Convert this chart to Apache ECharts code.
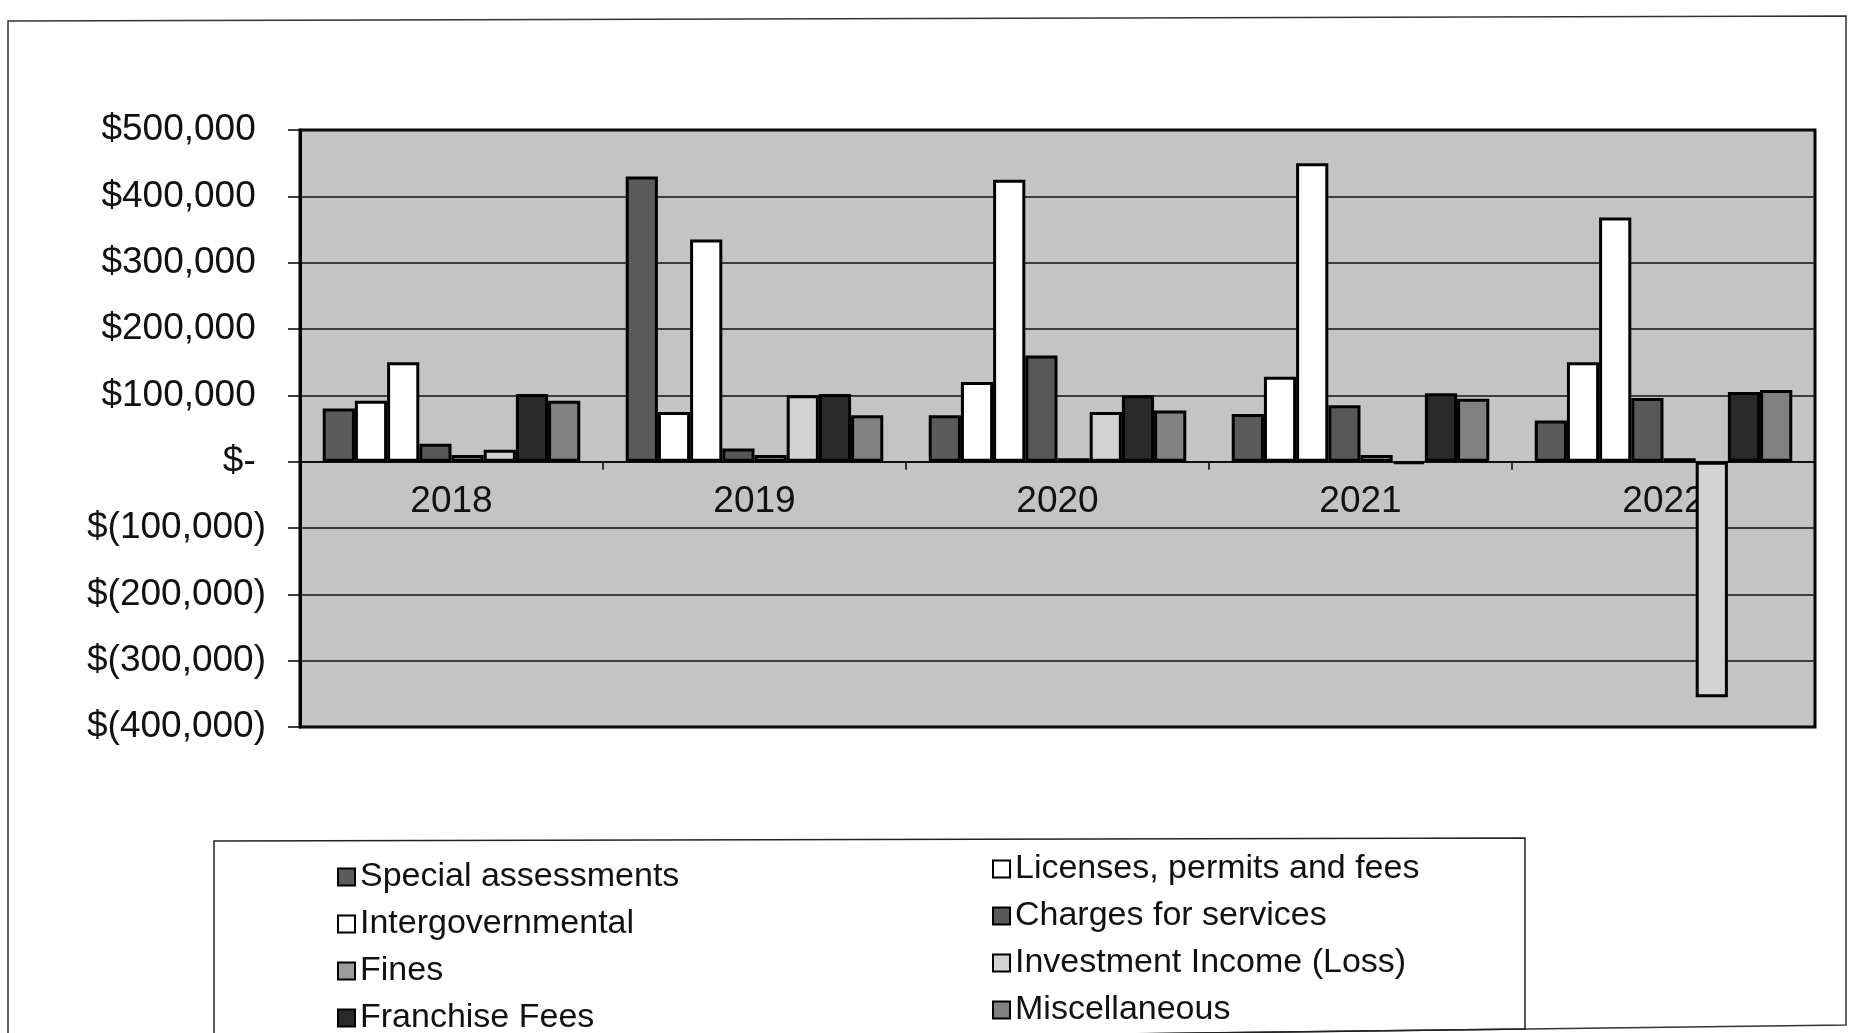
<!DOCTYPE html>
<html>
<head>
<meta charset="utf-8">
<title>Revenues by source</title>
<script src="https://cdn.jsdelivr.net/npm/echarts@6/dist/echarts.min.js"></script>
<style>
	html, body { margin: 0; padding: 0; background: #fff; }
	#main { width: 1852px; height: 1033px; }
</style>
</head>
<body>
<div id="main"></div>
<script>
var years = ['2018', '2019', '2020', '2021', '2022'];
var seriesNames = ['Special assessments', 'Licenses, permits and fees', 'Intergovernmental', 'Charges for services',
	'Fines', 'Investment Income (Loss)', 'Franchise Fees', 'Miscellaneous'];
var specialAssessments = [80000, 430000, 70000, 72000, 62000];
var licensesPermits = [92000, 75000, 120000, 128000, 150000];
var intergovernmental = [150000, 335000, 425000, 450000, 368000];
var chargesForServices = [27000, 20000, 160000, 85000, 96000];
var fines = [10000, 10000, 5000, 10000, 5000];
var investmentIncome = [18000, 100000, 75000, -3000, -355000];
var franchiseFees = [102000, 102000, 100000, 103000, 105000];
var miscellaneous = [92000, 70000, 77000, 95000, 108000];
var yTicks = [-400000, -300000, -200000, -100000, 0, 100000, 200000, 300000, 400000, 500000];

var seriesData = [specialAssessments, licensesPermits, intergovernmental, chargesForServices,
	fines, investmentIncome, franchiseFees, miscellaneous];
var fills = ['#5b5b5b', '#ffffff', '#ffffff', '#585858', '#9c9c9c', '#d2d2d2', '#2a2a2a', '#818181'];

// accounting style: $500,000 / $- / $(100,000), positives padded so digits line up
function money(v) {
	if (v === 0) return '$- ';
	var s = String(Math.abs(v)).replace(/\B(?=(\d{3})+(?!\d))/g, ',');
	return v < 0 ? '$(' + s + ')' : '$' + s + ' ';
}

var myChart = echarts.init(document.getElementById('main'));

var series = [];
for (var i = 0; i < seriesNames.length; i++) {
	series.push({
		name: seriesNames[i],
		type: 'bar',
		data: seriesData[i],
		barGap: '0%',
		barCategoryGap: '15%',
		itemStyle: {
			color: fills[i],
			borderColor: '#000',
			borderWidth: 3
		}
	});
}

var legendText = { fontFamily: 'Liberation Sans, Arial, sans-serif', fontSize: 34, color: '#111', lineHeight: 40 };

var option = {
	animation: false,
	backgroundColor: '#fff',
	grid: {
		left: 300, right: 37, top: 130, bottom: 306,
		show: true,
		backgroundColor: '#c4c4c4',
		borderColor: '#000',
		borderWidth: 3
	},
	xAxis: {
		type: 'category',
		data: years,
		axisLine: { onZero: true, lineStyle: { color: '#000', width: 1.5 } },
		axisTick: { show: true, length: 8, lineStyle: { color: '#000', width: 1.5 } },
		// labels sit just under the zero line, like the original
		axisLabel: { margin: -244, fontFamily: 'Liberation Sans, Arial, sans-serif', fontSize: 37, color: '#111' }
	},
	yAxis: {
		type: 'value',
		min: yTicks[0],
		max: yTicks[yTicks.length - 1],
		interval: 100000,
		axisLine: { show: true, lineStyle: { color: '#000', width: 3 } },
		axisTick: { show: true, length: 12, lineStyle: { color: '#000', width: 1.5 } },
		splitLine: { lineStyle: { color: '#111', width: 1.5 } },
		axisLabel: {
			margin: 34,
			fontFamily: 'Liberation Sans, Arial, sans-serif',
			fontSize: 37,
			color: '#111',
			formatter: money
		}
	},
	legend: [{
		orient: 'vertical',
		left: 337, top: 857, height: 200, padding: 0,
		itemWidth: 17, itemHeight: 17, itemGap: 7,
		icon: 'rect',
		itemStyle: { borderWidth: 2 },
		textStyle: legendText,
		data: [seriesNames[0], seriesNames[2], seriesNames[4], seriesNames[6]]
	}, {
		orient: 'vertical',
		left: 992, top: 849, height: 200, padding: 0,
		itemWidth: 17, itemHeight: 17, itemGap: 7,
		icon: 'rect',
		itemStyle: { borderWidth: 2 },
		textStyle: legendText,
		data: [seriesNames[1], seriesNames[3], seriesNames[5], seriesNames[7]]
	}],
	// page frame and legend box; the scan is a little skewed so the bottom edges slope
	graphic: [{
		type: 'polygon',
		shape: { points: [[8, 21], [1846, 16], [1846, 1025], [8, 1048]] },
		style: { fill: null, stroke: '#333', lineWidth: 1.5 },
		silent: true, z: -1
	}, {
		type: 'polygon',
		shape: { points: [[214, 841], [1525, 838], [1525, 1029], [214, 1045]] },
		style: { fill: null, stroke: '#222', lineWidth: 1.5 },
		silent: true, z: -1
	}],
	series: series
};

myChart.setOption(option);
</script>
</body>
</html>
